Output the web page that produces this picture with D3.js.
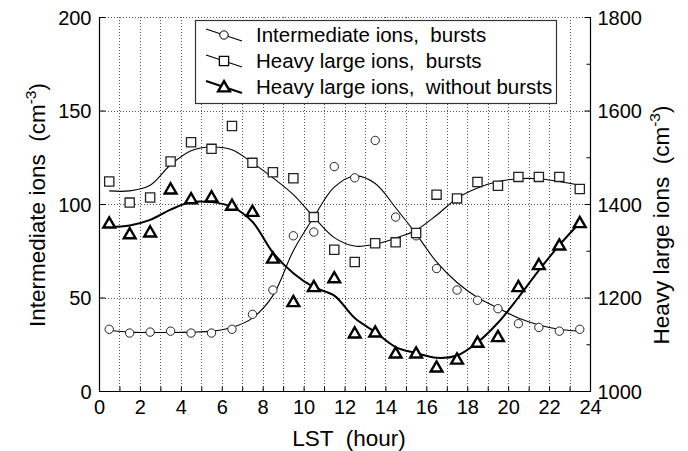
<!DOCTYPE html>
<html><head><meta charset="utf-8">
<script src="https://cdn.jsdelivr.net/npm/d3@7"></script>
<style>
html,body{margin:0;padding:0;background:#fff;}
svg{display:block;font-family:"Liberation Sans",Arial,sans-serif;}
svg text{white-space:pre;}
</style></head>
<body>
<svg id="chart" width="688" height="451"></svg>
<script>
// ---- data ----
const hours = [0.5,1.5,2.5,3.5,4.5,5.5,6.5,7.5,8.5,9.5,10.5,11.5,12.5,13.5,14.5,15.5,16.5,17.5,18.5,19.5,20.5,21.5,22.5,23.5];
// Intermediate ions, bursts (left axis, cm^-3)
const intermediateBursts = [33,31,31.5,32,31,31,33,41,54,83,85,120,114,134,93,83,65.5,54,48.5,44,36,34,32,33];
// Heavy large ions, bursts (right axis, cm^-3)
const heavyBursts = [1448,1403,1414,1491,1532,1518,1567,1488,1468,1455,1372,1302,1276,1316,1318,1338,1420,1412,1447,1439,1458,1458,1458,1432];
// Heavy large ions, without bursts (right axis, cm^-3)
const heavyNoBursts = [1359,1336,1340,1432,1411,1415,1397,1384,1284,1191,1223,1242,1124,1126,1081,1081,1051,1068,1104,1116,1223,1270,1312,1360];
// fitted curves
const curveHours = [0.5,1.5,2.5,3.5,4.5,5.5,6.5,7.5,8.5,9.5,10.5,11.5,12.5,13.5,14.5,15.5,16.5,17.5,18.5,19.5,20.5,21.5,22.5,23.5];
const fitIntermediate = [32.5,31.5,31.3,31.3,31.5,32,34,39,51,75,93,109,115,111,98,84,69,58,50,44.4,39,35.3,33,32];
const fitHeavyBursts = [1428,1428,1440,1484,1514,1522,1516,1488,1456,1420,1372,1328,1310,1314,1327,1344,1376,1412,1434,1448,1454,1454,1448,1440];
const fitHeavyNoBursts = [1351,1354,1366,1388,1404,1404,1394,1362,1296,1252,1222,1204,1156,1126,1094,1081,1071,1076,1104,1146,1200,1258,1312,1360];
const leftTicks = [0,50,100,150,200];
const rightTicks = [1000,1200,1400,1600,1800];
const rightMinor = [1100,1300,1500,1700];
const xTicks = [0,2,4,6,8,10,12,14,16,18,20,22,24];
const legendLabels = ["Intermediate ions,  bursts","Heavy large ions,  bursts","Heavy large ions,  without bursts"];

// ---- layout ----
const L = 99, R = 590, T = 17, B = 391;
const svg = d3.select("#chart");
const x = d3.scaleLinear().domain([0,24]).range([L,R]);
const yL = d3.scaleLinear().domain([0,200]).range([B,T]);
const yR = d3.scaleLinear().domain([1000,1800]).range([B,T]);
const FS = 20;     // tick labels
const FT = 20.5;   // legend
const FA = 22.5;   // axis titles

// grid
const grid = svg.append("g").attr("stroke","#555").attr("stroke-width",1).attr("stroke-dasharray","1,2");
grid.selectAll("line.v").data(d3.range(1,24)).join("line")
  .attr("x1",d=>Math.round(x(d))+0.5).attr("x2",d=>Math.round(x(d))+0.5).attr("y1",T).attr("y2",B);
grid.selectAll("line.h").data([50,100,150,200]).join("line")
  .attr("x1",L).attr("x2",R).attr("y1",d=>Math.round(yL(d))+0.5).attr("y2",d=>Math.round(yL(d))+0.5);

// axes frame (left, bottom, right solid)
svg.append("path").attr("fill","none").attr("stroke","#000").attr("stroke-width",1.2)
  .attr("d",`M${L+0.5},${T}V${B+0.5}H${R+0.5}V${T}`);

// axes with inward ticks
const axL = d3.axisLeft(yL).tickValues(leftTicks).tickSize(-6).tickPadding(8);
const gL = svg.append("g").attr("transform",`translate(${L+0.5},0)`).call(axL);
const axR = d3.axisRight(yR).tickValues(rightTicks).tickSize(-6).tickPadding(7).tickFormat(d3.format("d"));
const gR = svg.append("g").attr("transform",`translate(${R+0.5},0)`).call(axR);
const axRm = d3.axisRight(yR).tickValues(rightMinor).tickSize(-4).tickFormat("");
svg.append("g").attr("transform",`translate(${R+0.5},0)`).call(axRm);
const axB = d3.axisBottom(x).tickValues(d3.range(0,25)).tickSize(-5).tickFormat(d=>xTicks.includes(d)?d:"").tickPadding(8);
const gB = svg.append("g").attr("transform",`translate(0,${B+0.5})`).call(axB);
svg.selectAll(".domain").remove();
svg.selectAll(".tick line").attr("stroke","#000");
svg.selectAll(".tick text").attr("font-size",FS).attr("font-family","Liberation Sans, Arial, sans-serif").attr("fill","#000");
gL.selectAll(".tick text").attr("dy","0.35em");
gR.selectAll(".tick text").attr("dy","0.35em");

// curves
const lineL = d3.line().x((d,i)=>x(curveHours[i])).y(d=>yL(d)).curve(d3.curveCatmullRom.alpha(0.5));
const lineR = d3.line().x((d,i)=>x(curveHours[i])).y(d=>yR(d)).curve(d3.curveCatmullRom.alpha(0.5));
svg.append("path").attr("d",lineL(fitIntermediate)).attr("fill","none").attr("stroke","#000").attr("stroke-width",1.1);
svg.append("path").attr("d",lineR(fitHeavyBursts)).attr("fill","none").attr("stroke","#000").attr("stroke-width",1.1);
svg.append("path").attr("d",lineR(fitHeavyNoBursts)).attr("fill","none").attr("stroke","#000").attr("stroke-width",2);

// markers
const circ = d3.symbol().type(d3.symbolCircle).size(55);
const sq = d3.symbol().type(d3.symbolSquare).size(85);
const tri = d3.symbol().type(d3.symbolTriangle).size(60);
svg.append("g").selectAll("path").data(intermediateBursts).join("path")
  .attr("d",circ).attr("transform",(d,i)=>`translate(${x(hours[i])},${yL(d)})`)
  .attr("fill","#fff").attr("stroke","#222").attr("stroke-width",1);
svg.append("g").selectAll("path").data(heavyBursts).join("path")
  .attr("d",sq).attr("transform",(d,i)=>`translate(${x(hours[i])},${yR(d)})`)
  .attr("fill","#fff").attr("stroke","#222").attr("stroke-width",1.3);
svg.append("g").selectAll("path").data(heavyNoBursts).join("path")
  .attr("d",tri).attr("transform",(d,i)=>`translate(${x(hours[i])},${yR(d)+1})`)
  .attr("fill","#fff").attr("stroke","#000").attr("stroke-width",2.4);

// legend
const lg = svg.append("g");
lg.append("rect").attr("x",195.5).attr("y",20.5).attr("width",361).attr("height",83)
  .attr("fill","#fff").attr("stroke","#333").attr("stroke-width",1.2);
const syms = [circ, sq, tri];
const symStroke = [1,1.3,2.4];
legendLabels.forEach((lab,i)=>{
  const cy = 35 + i*26;
  lg.append("line").attr("x1",206).attr("y1",cy-6).attr("x2",242).attr("y2",cy+6)
    .attr("stroke","#000").attr("stroke-width", i===2?2:1.1);
  lg.append("path").attr("d",syms[i]).attr("transform",`translate(224,${cy+(i===2?1:0)})`)
    .attr("fill","#fff").attr("stroke","#000").attr("stroke-width",symStroke[i]);
  lg.append("text").attr("x",256).attr("y",cy+7).attr("font-size",FT).text(lab);
});

// axis titles
function title(xp, yp, main){
  const t = svg.append("text").attr("transform",`translate(${xp},${yp}) rotate(-90)`)
    .attr("text-anchor","middle").attr("font-size",FA);
  t.append("tspan").text(main + "  (cm");
  t.append("tspan").attr("dy",-9).attr("font-size",15.5).text("-3");
  t.append("tspan").attr("dy",9).text(")");
}
title(45, 205, "Intermediate ions");
title(669, 225, "Heavy large ions");
svg.append("text").attr("x",349).attr("y",446).attr("text-anchor","middle").attr("font-size",FA).text("LST  (hour)");
</script>
</body></html>
